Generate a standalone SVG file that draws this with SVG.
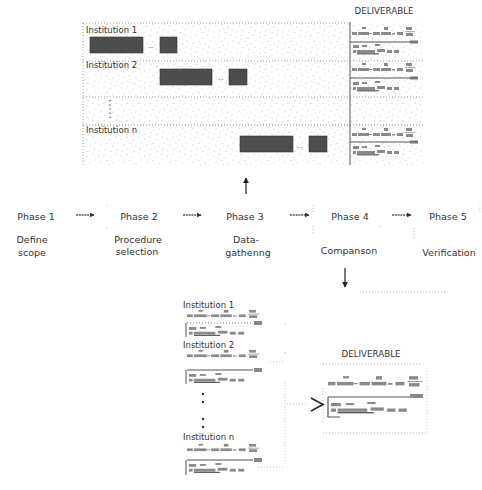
<svg xmlns="http://www.w3.org/2000/svg" xmlns:xlink="http://www.w3.org/1999/xlink" width="482" height="490" viewBox="0 0 482 490">
<style>
.t{font-family:"DejaVu Sans","Liberation Sans",sans-serif;fill:#333}
.ph{font-size:9.5px}
.inst{font-size:8.5px}
.del{font-size:8.7px}
.dot{stroke:#888;stroke-width:0.8;stroke-dasharray:1 2;fill:none}
.faint{stroke:#aaa;stroke-width:0.8;stroke-dasharray:1 2;fill:none}
.sol{stroke:#555;stroke-width:1;fill:none}
.dark{fill:#4d4d4d;stroke:#333;stroke-width:0.6}
.flow{stroke:#555;stroke-width:1.6;stroke-dasharray:2 0.8;fill:none}
.vert{stroke:#333;stroke-width:1.3;fill:none}
</style>
<defs>
<pattern id="speck" patternUnits="userSpaceOnUse" width="23" height="17">
<g fill="#999">
<circle cx="1" cy="1" r="0.6"/>
<circle cx="6.5" cy="3" r="0.5"/>
<circle cx="12" cy="1.5" r="0.6"/>
<circle cx="18" cy="4" r="0.5"/>
<circle cx="3" cy="7" r="0.5"/>
<circle cx="9" cy="9" r="0.6"/>
<circle cx="15" cy="7.5" r="0.5"/>
<circle cx="21" cy="10" r="0.6"/>
<circle cx="2" cy="13" r="0.6"/>
<circle cx="7" cy="15" r="0.5"/>
<circle cx="13" cy="13.5" r="0.5"/>
<circle cx="19" cy="15.5" r="0.6"/>
<circle cx="10.5" cy="5" r="0.4"/>
<circle cx="16.5" cy="11.5" r="0.4"/>
</g>
</pattern>
<pattern id="halftone" patternUnits="userSpaceOnUse" width="3" height="3">
<rect width="3" height="3" fill="#5a5a5a"/>
<circle cx="1.5" cy="1.5" r="0.6" fill="#8a8a8a"/>
</pattern>
<marker id="ah" viewBox="0 0 8 8" refX="7" refY="4" markerWidth="5" markerHeight="5" orient="auto" markerUnits="userSpaceOnUse">
<path d="M0,0 L8,4 L0,8 Z" fill="#333"/>
</marker>
<marker id="ah2" viewBox="0 0 8 8" refX="7" refY="4" markerWidth="6" markerHeight="6" orient="auto" markerUnits="userSpaceOnUse">
<path d="M0,0 L8,4 L0,8 Z" fill="#222"/>
</marker>
<g id="fa" fill="#8a8a8a">
<rect x="0" y="6" width="5" height="3"/>
<rect x="6" y="6" width="11" height="3"/>
<rect x="10" y="1" width="4" height="2"/>
<rect x="17" y="7" width="3" height="1"/>
<rect x="21" y="6" width="7" height="3"/>
<rect x="29" y="6" width="10" height="3"/>
<rect x="32" y="1" width="4" height="3"/>
<rect x="40" y="7" width="3" height="1.5"/>
<rect x="45" y="6" width="6" height="3"/>
<rect x="54" y="1" width="6" height="3"/>
<rect x="53" y="5.3" width="10" height="0.8"/>
<rect x="54" y="7" width="7" height="3"/>
</g>
<g id="fb" fill="#8a8a8a">
<rect x="0" y="0" width="6" height="3"/>
<rect x="9" y="0" width="5" height="2"/>
<rect x="22" y="-1" width="5" height="2"/>
<rect x="0" y="5" width="3" height="3"/>
<rect x="4" y="5" width="18" height="3"/>
<rect x="4" y="8.2" width="22" height="1.2" fill="#555"/>
<rect x="24" y="4" width="8" height="3"/>
<rect x="34" y="5" width="5" height="3"/>
<rect x="41" y="5" width="5" height="3"/>
</g>
</defs>

<!-- top panel -->
<g id="top-panel">
<rect x="83" y="23" width="340" height="142" fill="url(#speck)" opacity="0.7"/>
<path class="dot" d="M83 23 V165 M83 23 H350 M83 61 H423 M83 97 H423"/>
<path class="dot" d="M83 125 H423" style="stroke:#666"/>
<path class="sol" d="M350 22 V165"/>
<path class="dot" d="M110 100 V118" style="stroke:#333;stroke-width:1.2;stroke-dasharray:1.2 3"/>
</g>

<g id="institution-1">
<text class="t inst" x="86" y="33">Institution 1</text>
<rect class="dark" x="90" y="37" width="53" height="16" fill="url(#halftone)"/>
<text class="t inst" x="148" y="48" style="fill:#777">..</text>
<rect class="dark" x="160" y="37" width="17" height="16" fill="url(#halftone)"/>
</g>
<g id="institution-2">
<text class="t inst" x="86" y="68">Institution 2</text>
<rect class="dark" x="160" y="69" width="52" height="16" fill="url(#halftone)"/>
<text class="t inst" x="218" y="80" style="fill:#777">..</text>
<rect class="dark" x="229" y="69" width="18" height="16" fill="url(#halftone)"/>
</g>
<g id="institution-n">
<text class="t inst" x="86" y="133">Institution n</text>
<rect class="dark" x="240" y="136" width="53" height="16" fill="url(#halftone)"/>
<text class="t inst" x="297" y="148" style="fill:#777">..</text>
<rect class="dark" x="309" y="136" width="18" height="16" fill="url(#halftone)"/>
</g>

<g id="deliverable-top">
<text class="t del" x="384" y="14" text-anchor="middle">DELIVERABLE</text>
<use xlink:href="#fa" href="#fa" x="352" y="26"/>
<path class="sol" d="M350 42 H412"/>
<rect x="410" y="40.5" width="8" height="3" fill="#777"/>
<use xlink:href="#fb" href="#fb" x="353" y="45"/>
<use xlink:href="#fa" href="#fa" x="352" y="62"/>
<path class="sol" d="M350 78 H412"/>
<rect x="410" y="76.5" width="8" height="3" fill="#777"/>
<use xlink:href="#fb" href="#fb" x="353" y="82"/>
<use xlink:href="#fa" href="#fa" x="352" y="127"/>
<path class="sol" d="M350 142 H412"/>
<rect x="410" y="140.5" width="8" height="3" fill="#777"/>
<use xlink:href="#fb" href="#fb" x="353" y="146"/>
</g>

<!-- phases -->
<g id="phase-1">
<text class="t ph" x="36" y="220" text-anchor="middle">Phase 1</text>
<text class="t ph" x="32" y="243" text-anchor="middle">Define</text>
<text class="t ph" x="32" y="256" text-anchor="middle">scope</text>
</g>
<g id="phase-2">
<text class="t ph" x="139" y="220" text-anchor="middle">Phase 2</text>
<text class="t ph" x="138" y="243" text-anchor="middle">Procedure</text>
<text class="t ph" x="137" y="255" text-anchor="middle">selection</text>
</g>
<g id="phase-3">
<text class="t ph" x="245" y="220" text-anchor="middle">Phase 3</text>
<text class="t ph" x="246" y="243" text-anchor="middle">Data-</text>
<text class="t ph" x="248" y="256" text-anchor="middle">gathenng</text>
</g>
<g id="phase-4">
<text class="t ph" x="350" y="220" text-anchor="middle">Phase 4</text>
<text class="t ph" x="349" y="254" text-anchor="middle">Companson</text>
</g>
<g id="phase-5">
<text class="t ph" x="448" y="220" text-anchor="middle">Phase 5</text>
<text class="t ph" x="449" y="256" text-anchor="middle">Verification</text>
</g>

<!-- bottom section -->
<g id="bottom-institutions">
<text class="t inst" x="183" y="308">Institution 1</text>
<use xlink:href="#fa" href="#fa" transform="translate(187,309) scale(1.15,0.9)"/>
<path class="dot" d="M187 323 H253" style="stroke:#555"/>
<rect x="254" y="321" width="8" height="4" fill="#888"/>
<path class="sol" d="M186 323 V337"/>
<use xlink:href="#fb" href="#fb" transform="translate(189,327) scale(1.2,0.95)"/>
<text class="t inst" x="183" y="348">Institution 2</text>
<use xlink:href="#fa" href="#fa" transform="translate(187,349) scale(1.15,0.9)"/>
<path class="sol" d="M187 370 H253"/>
<rect x="254" y="368" width="8" height="4" fill="#888"/>
<path class="sol" d="M186 370 V384"/>
<use xlink:href="#fb" href="#fb" transform="translate(189,374) scale(1.2,0.95)"/>
<g fill="#333">
<circle cx="203" cy="394" r="1.2"/>
<circle cx="203" cy="402" r="1.2"/>
<circle cx="203" cy="419" r="1.2"/>
<circle cx="203" cy="427" r="1.2"/>
</g>
<text class="t inst" x="183" y="440">Institution n</text>
<use xlink:href="#fa" href="#fa" transform="translate(187,443) scale(1.15,0.9)"/>
<path class="sol" d="M187 460 H253"/>
<rect x="254" y="458" width="8" height="4" fill="#888"/>
<path class="sol" d="M186 460 V475"/>
<use xlink:href="#fb" href="#fb" transform="translate(189,464) scale(1.2,0.95)"/>
</g>

<g id="deliverable-bottom">
<text class="t del" x="371" y="357" text-anchor="middle">DELIVERABLE</text>
<path class="faint" d="M323 364 H420 M323 388 V422 M427 368 V432 M323 433 H428"/>
<use xlink:href="#fa" href="#fa" transform="translate(328,375) scale(1.5,1.15)"/>
<path class="sol" d="M328 397 H412"/>
<rect x="410" y="394" width="13" height="4" fill="#888"/>
<path class="sol" d="M328 397 V417 H340" style="stroke-width:1.2"/>
<use xlink:href="#fb" href="#fb" transform="translate(331,403) scale(1.65,1.1)"/>
</g>

<!-- connectors -->
<g id="connectors">
<path class="flow" d="M76 215 H94" marker-end="url(#ah)"/>
<path class="flow" d="M183 215 H201" marker-end="url(#ah)"/>
<path class="flow" d="M290 215 H309" marker-end="url(#ah)"/>
<path class="flow" d="M392 215 H411" marker-end="url(#ah)"/>
<path class="vert" d="M246 194 V178" marker-end="url(#ah2)"/>
<path class="vert" d="M345 268 V287" marker-end="url(#ah2)"/>
<path class="faint" d="M313 205 V213 M313 226 V234 M414 228 V238 M480 205 V212 M107 205 V207 M107 227 V229 M380 226 V228"/>
<path class="faint" d="M360 292 H447"/>
<path class="faint" d="M285 323 V325 M285 352 V354 M270 362 H285 M285 382 V465 M258 467 H285 M287 404 H307"/>
<path d="M311 398 L323 404.5 L311 411" fill="none" stroke="#222" stroke-width="1.5"/>
</g>
</svg>
